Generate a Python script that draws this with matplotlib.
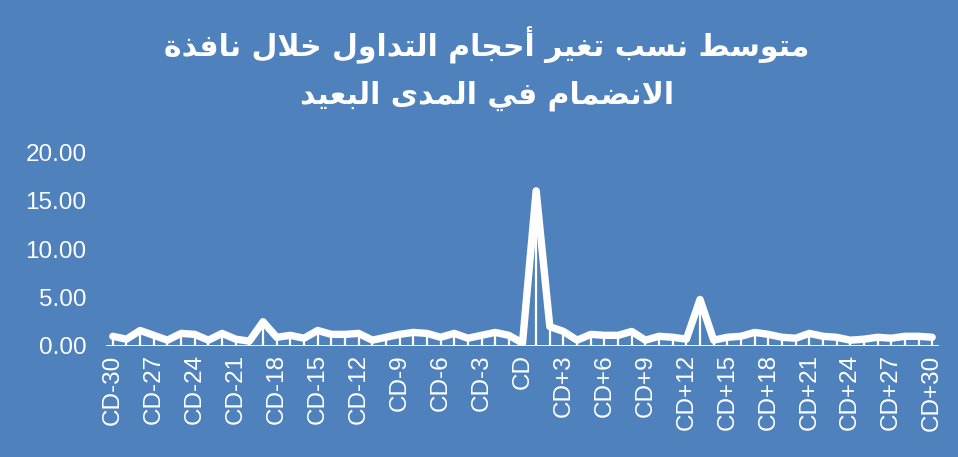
import matplotlib
matplotlib.use("Agg")
import matplotlib.pyplot as plt
import numpy as np

# ---- data -------------------------------------------------------------
days = [f"CD{d:+d}" if d != 0 else "CD" for d in range(-30, 31)]
values = [
    1.0, 0.7, 1.6, 1.1, 0.6, 1.3, 1.2, 0.6, 1.3, 0.7,
    0.5, 2.5, 0.9, 1.1, 0.8, 1.6, 1.2, 1.2, 1.3, 0.6,
    0.9, 1.2, 1.4, 1.3, 0.9, 1.3, 0.8, 1.1, 1.4, 1.1,
    0.3,
    16.0, 2.0, 1.5, 0.6, 1.2, 1.1, 1.1, 1.5, 0.6, 1.0,
    0.9, 0.7, 4.8, 0.6, 0.9, 1.0, 1.4, 1.2, 0.9, 0.8,
    1.3, 1.0, 0.9, 0.6, 0.7, 0.9, 0.8, 1.0, 1.0, 0.9,
]
yticks = [0, 5, 10, 15, 20]
title_lines = ["متوسط نسب تغير أحجام التداول خلال نافذة",
               "الانضمام في المدى البعيد"]

# ---- minimal Arabic shaping (presentation forms) ----------------------
FORMS = {  # isolated, final, initial, medial
    'ا': (0xFE8D, 0xFE8E, None, None), 'أ': (0xFE83, 0xFE84, None, None),
    'ب': (0xFE8F, 0xFE90, 0xFE91, 0xFE92), 'ة': (0xFE93, 0xFE94, None, None),
    'ت': (0xFE95, 0xFE96, 0xFE97, 0xFE98), 'ث': (0xFE99, 0xFE9A, 0xFE9B, 0xFE9C),
    'ج': (0xFE9D, 0xFE9E, 0xFE9F, 0xFEA0), 'ح': (0xFEA1, 0xFEA2, 0xFEA3, 0xFEA4),
    'خ': (0xFEA5, 0xFEA6, 0xFEA7, 0xFEA8), 'د': (0xFEA9, 0xFEAA, None, None),
    'ذ': (0xFEAB, 0xFEAC, None, None), 'ر': (0xFEAD, 0xFEAE, None, None),
    'ز': (0xFEAF, 0xFEB0, None, None), 'س': (0xFEB1, 0xFEB2, 0xFEB3, 0xFEB4),
    'ش': (0xFEB5, 0xFEB6, 0xFEB7, 0xFEB8), 'ص': (0xFEB9, 0xFEBA, 0xFEBB, 0xFEBC),
    'ض': (0xFEBD, 0xFEBE, 0xFEBF, 0xFEC0), 'ط': (0xFEC1, 0xFEC2, 0xFEC3, 0xFEC4),
    'ظ': (0xFEC5, 0xFEC6, 0xFEC7, 0xFEC8), 'ع': (0xFEC9, 0xFECA, 0xFECB, 0xFECC),
    'غ': (0xFECD, 0xFECE, 0xFECF, 0xFED0), 'ف': (0xFED1, 0xFED2, 0xFED3, 0xFED4),
    'ق': (0xFED5, 0xFED6, 0xFED7, 0xFED8), 'ك': (0xFED9, 0xFEDA, 0xFEDB, 0xFEDC),
    'ل': (0xFEDD, 0xFEDE, 0xFEDF, 0xFEE0), 'م': (0xFEE1, 0xFEE2, 0xFEE3, 0xFEE4),
    'ن': (0xFEE5, 0xFEE6, 0xFEE7, 0xFEE8), 'ه': (0xFEE9, 0xFEEA, 0xFEEB, 0xFEEC),
    'و': (0xFEED, 0xFEEE, None, None), 'ى': (0xFEEF, 0xFEF0, None, None),
    'ي': (0xFEF1, 0xFEF2, 0xFEF3, 0xFEF4),
    'لا': (0xFEFB, 0xFEFC, None, None), 'لأ': (0xFEF7, 0xFEF8, None, None),
}


def shape_word(word):
    units = []
    i = 0
    while i < len(word):
        if word[i] == 'ل' and i + 1 < len(word) and word[i + 1] in 'اأ':
            units.append(word[i:i + 2])
            i += 2
        else:
            units.append(word[i])
            i += 1
    out = []
    for k, u in enumerate(units):
        f = FORMS.get(u)
        if f is None:
            out.append(u)
            continue
        prev = units[k - 1] if k > 0 else None
        joins_prev = prev is not None and prev in FORMS and FORMS[prev][2] is not None
        nxt = units[k + 1] if k + 1 < len(units) else None
        joins_next = f[2] is not None and nxt is not None and nxt in FORMS
        if joins_prev and joins_next:
            cp = f[3]
        elif joins_prev:
            cp = f[1]
        elif joins_next:
            cp = f[2]
        else:
            cp = f[0]
        out.append(chr(cp))
    return ''.join(out)


def rtl(text):
    shaped = ' '.join(shape_word(w) for w in text.split(' '))
    return shaped[::-1]


# ---- figure -----------------------------------------------------------
BG = "#4F81BD"
fig = plt.figure(figsize=(9.58, 4.57), dpi=100, facecolor=BG)
ax = fig.add_axes([106 / 958, 1 - 346 / 457, 833 / 958, 194 / 457])
ax.set_facecolor(BG)

x = np.arange(len(values))
ax.vlines(x, 0, values, colors="white", linewidth=1.6, zorder=2)
ax.plot(x, values, color="white", linewidth=5.3, solid_joinstyle="round",
        solid_capstyle="round", zorder=3)
ax.axhline(0, color="white", linewidth=2, zorder=4)

ax.set_xlim(-0.5, len(values) - 0.5)
ax.set_ylim(0, 20)
ax.set_yticks(yticks)
ax.set_yticklabels([f"{v:.2f}" for v in yticks])
ax.set_xticks(x[::3])
ax.set_xticklabels(days[::3], rotation=90)

for s in ax.spines.values():
    s.set_visible(False)
ax.tick_params(axis="both", length=0, colors="white")
ax.tick_params(axis="x", pad=6, labelsize=17.5)
ax.tick_params(axis="y", pad=14, labelsize=17.5)
for lbl in ax.get_xticklabels() + ax.get_yticklabels():
    lbl.set_fontfamily("Liberation Sans")

fig.text(0.508, 0.902, rtl(title_lines[0]), ha="center", va="center",
         color="white", fontsize=21.5, fontweight="bold", family="DejaVu Sans")
fig.text(0.508, 0.79, rtl(title_lines[1]), ha="center", va="center",
         color="white", fontsize=21.5, fontweight="bold", family="DejaVu Sans")

fig.savefig("out.png", dpi=100, facecolor=BG)
